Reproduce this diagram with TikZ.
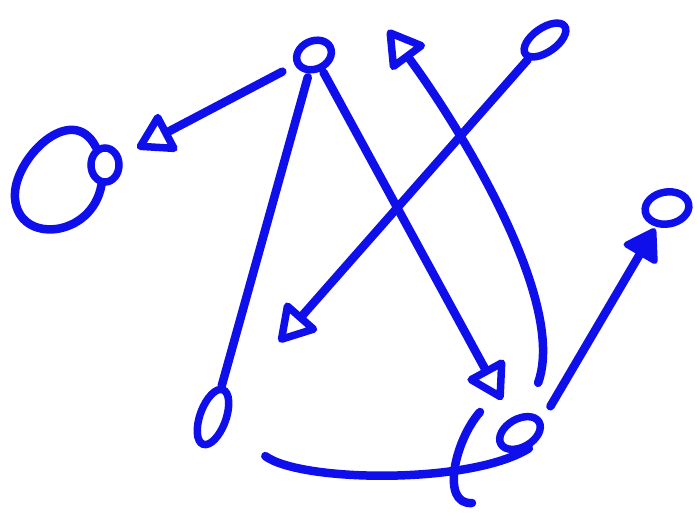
\documentclass[tikz,border=0pt]{standalone}
\usetikzlibrary{arrows.meta,shapes.geometric,calc}
\definecolor{ink}{RGB}{15,15,235}
\begin{document}
\begin{tikzpicture}[x=1pt,y=-1pt,
  nd/.style={ellipse,draw=ink,line width=7.5pt,inner sep=0pt},
  edge/.style={draw=ink,line width=8.5pt,line cap=round,line join=round},
  arr/.style={edge,-{Triangle[open,length=40pt,width=46pt,round,line width=7.5pt]}},
  farr/.style={edge,-{Triangle[length=34pt,width=42pt,round,line width=6pt]}}]
\useasboundingbox (0,0) rectangle (697,515);
\fill[white] (0,0) rectangle (697,515);
% nodes
\node[nd,minimum width=36pt,minimum height=28pt,rotate=25] (A) at (314,55) {};
\node[nd,minimum width=28pt,minimum height=34pt] (B) at (105,165) {};
\node[nd,minimum width=48pt,minimum height=24pt,rotate=35] (C) at (545,40) {};
\node[nd,minimum width=26pt,minimum height=58pt,rotate=-20] (H) at (213,417) {};
\node[nd,minimum width=44pt,minimum height=28pt,rotate=30] (G) at (520,433) {};
\node[nd,minimum width=44pt,minimum height=32pt,rotate=10] (I) at (667,208) {};
\coordinate (Atip) at (388,30);
% edges
\draw[arr,shorten <=14pt,shorten >=18pt] (A) -- (B);
\draw[edge] (B) .. controls (72,100) and (12,160) .. (15,198)
                .. controls (18,245) and (92,238) .. (B);
\draw[arr,shorten >=72pt] (C) -- (H);
\draw[arr,shorten <=2pt,shorten >=20pt] (A) -- (G);
\draw[arr,shorten <=32pt] (G) .. controls (568,300) and (455,120) .. (Atip);
\draw[edge,shorten >=4pt] (H) -- (A);
\draw[edge,shorten <=48pt] (H) .. controls (300,482) and (470,485) .. (G.south);
\draw[edge] ($(G)+(-40,-21)$) .. controls ($(G)+(-65,7)$) and ($(G)+(-80,72)$) .. ($(G)+(-48,70)$);
\draw[farr,shorten <=16pt,shorten >=2pt] (G.east) -- (I);
\end{tikzpicture}
\end{document}
